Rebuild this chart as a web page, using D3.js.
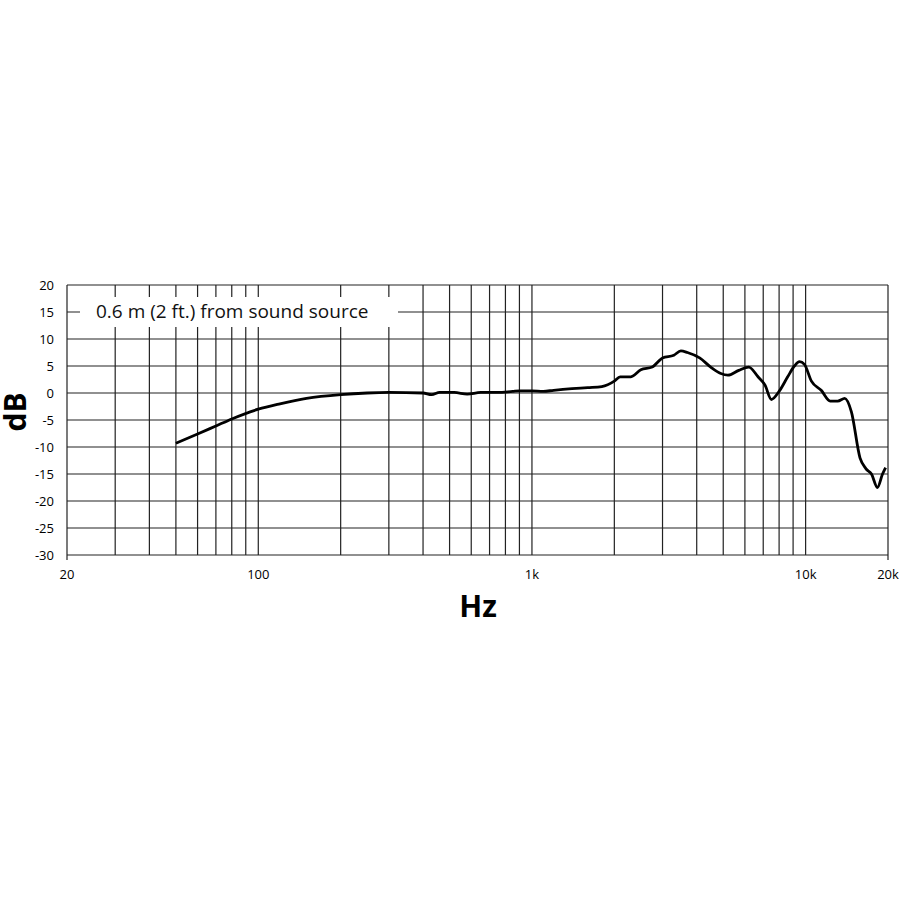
<!DOCTYPE html>
<html><head><meta charset="utf-8">
<script src="https://cdn.jsdelivr.net/npm/d3@7"></script>
<style>body{margin:0;background:#fff}</style></head>
<body><svg id="c" width="900" height="900"></svg>
<script>
var freqs = [50,60,70,80,100,120,150,200,250,300,400,430,460,520,580,650,750,850,900,1000,1100,1200,1400,1600,1800,2000,2100,2300,2500,2750,3000,3300,3500,3700,4100,4500,4900,5200,5700,6200,6700,7100,7500,8000,8600,9100,9500,9900,10500,11400,12300,13100,13900,14700,15800,16600,17400,18300,19100,19600];
var dbs = [-9.3,-7.6,-6.1,-4.8,-3,-2,-1,-0.3,0,0.1,0,-0.3,0.1,0.1,-0.2,0.1,0.1,0.3,0.4,0.4,0.3,0.5,0.8,1,1.2,2.2,3,3,4.3,4.8,6.5,7,7.8,7.5,6.5,4.8,3.6,3.3,4.2,4.8,3,1.5,-1.2,0.3,3,5,5.8,5.3,2.2,0.5,-1.5,-1.5,-1,-3.5,-12,-14,-15,-17.5,-15,-13.8];
var yTicks = [20,15,10,5,0,-5,-10,-15,-20,-25,-30];
var xGrid = [30,40,50,60,70,80,90,100,200,300,400,500,600,700,800,900,1000,2000,3000,4000,5000,6000,7000,8000,9000,10000];
var xLabels = [[20,"20"],[100,"100"],[1000,"1k"],[10000,"10k"],[20000,"20k"]];

var svg = d3.select("#c");
var x = d3.scaleLog().domain([20,20000]).range([67,888]);
var y = d3.scaleLinear().domain([-30,20]).range([555,285]);
var g = svg.append("g").attr("stroke","#222").attr("stroke-width",1.2);

g.selectAll(".h").data(yTicks).enter().append("line")
  .attr("x1",67).attr("x2",888).attr("y1",d=>y(d)).attr("y2",d=>y(d));
g.selectAll(".v").data(xGrid).enter().append("line")
  .attr("x1",d=>x(d)).attr("x2",d=>x(d)).attr("y1",285).attr("y2",555);
g.append("line").attr("x1",67).attr("x2",67).attr("y1",285).attr("y2",560);
g.append("line").attr("x1",888).attr("x2",888).attr("y1",285).attr("y2",560);

svg.append("rect").attr("x",80).attr("y",297).attr("width",318).attr("height",30).attr("fill","#fff");
svg.append("text").attr("x",96).attr("y",318).attr("font-family","Open Sans, sans-serif")
  .attr("font-size",19).attr("fill","#111").text("0.6 m (2 ft.) from sound source");

svg.selectAll(".yl").data(yTicks).enter().append("text")
  .attr("x",54).attr("y",d=>y(d)+5).attr("text-anchor","end")
  .attr("font-family","Open Sans, sans-serif").attr("font-size",13).text(d=>d);
svg.selectAll(".xl").data(xLabels).enter().append("text")
  .attr("x",d=>x(d[0])).attr("y",579).attr("text-anchor","middle")
  .attr("font-family","Open Sans, sans-serif").attr("font-size",13).text(d=>d[1]);

svg.append("text").attr("x",478).attr("y",617).attr("text-anchor","middle")
  .attr("font-family","Open Sans, sans-serif").attr("font-weight","bold").attr("font-size",30).text("Hz");
svg.append("text").attr("transform","translate(26,412) rotate(-90)").attr("text-anchor","middle")
  .attr("font-family","Open Sans, sans-serif").attr("font-weight","bold").attr("font-size",30).text("dB");

var line = d3.line().x(d=>x(d[0])).y(d=>y(d[1])).curve(d3.curveMonotoneX);
svg.append("path").datum(freqs.map((f,i)=>[f,dbs[i]])).attr("d",line)
  .attr("fill","none").attr("stroke","#000").attr("stroke-width",2.8).attr("stroke-linejoin","round");
</script></body></html>
